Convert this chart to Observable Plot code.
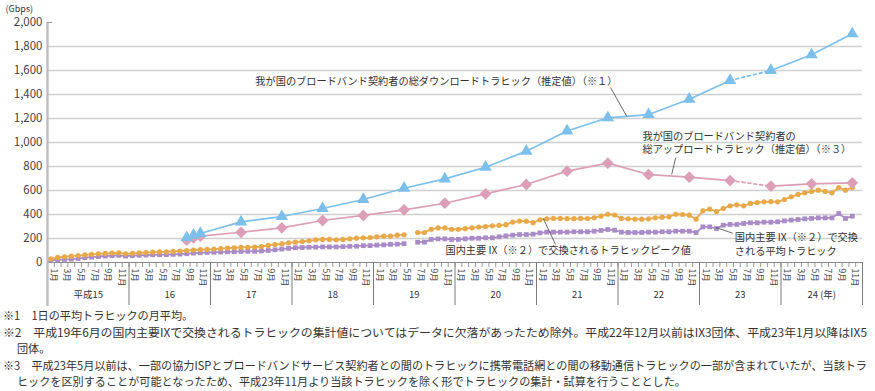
<!DOCTYPE html>
<html>
<head>
<meta charset="utf-8">
<script src="https://cdn.jsdelivr.net/npm/d3@7"></script>
<script src="https://cdn.jsdelivr.net/npm/@observablehq/plot@0.6"></script>
<style>
  body { margin: 0; background: #fff; font-family: "Noto Sans CJK JP", sans-serif; }
  #chart svg { display: block; }
  #notes { width: 875px; overflow: hidden; color: #333; font-size: 11.6px; line-height: 16.5px; padding-left: 3px; box-sizing: border-box; }
  .n { display: block; white-space: nowrap; }
  .n span { display: inline-block; transform-origin: 0 50%; }
  .c { padding-left: 14px; }
</style>
</head>
<body>
<div id="chart"></div>
<div id="notes">
  <div class="n"><span>※1　1日の平均トラヒックの月平均。</span></div>
  <div class="n"><span class="full">※2　平成19年6月の国内主要IXで交換されるトラヒックの集計値についてはデータに欠落があったため除外。平成22年12月以前はIX3団体、平成23年1月以降はIX5</span></div>
  <div class="n c"><span>団体。</span></div>
  <div class="n"><span class="full">※3　平成23年5月以前は、一部の協力ISPとブロードバンドサービス契約者との間のトラヒックに携帯電話網との間の移動通信トラヒックの一部が含まれていたが、当該トラ</span></div>
  <div class="n c"><span>ヒックを区別することが可能となったため、平成23年11月より当該トラヒックを除く形でトラヒックの集計・試算を行うこととした。</span></div>
</div>
<script>
// ---- categories ----
const firstYear = 2003; // 平成15年
const yearLabels = ["平成15", "16", "17", "18", "19", "20", "21", "22", "23", "24 (年)"];
const monthLabels = ["1月", "3月", "5月", "7月", "9月", "11月"];
const monthNumbers = [1, 3, 5, 7, 9, 11];
const yTicks = [0, 200, 400, 600, 800, 1000, 1200, 1400, 1600, 1800, 2000];

// ---- survey series (estimates, semi-annual) ----
const surveyDates = ["2004-09", "2004-10", "2004-11", "2005-05", "2005-11", "2006-05", "2006-11",
  "2007-05", "2007-11", "2008-05", "2008-11", "2009-05", "2009-11", "2010-05", "2010-11",
  "2011-05", "2011-11", "2012-05", "2012-11"];
const downloadValues = [208, 228, 242, 339, 383, 450, 525, 619, 697, 794, 928, 1096, 1206, 1233, 1361, 1517, 1600, 1731, 1906];
const uploadValues = [186, 206, 219, 252, 289, 350, 392, 439, 494, 572, 650, 761, 828, 733, 711, 683, 636, 656, 664];
const dashedFrom = "2011-05"; // dotted segment 2011-05 -> 2011-11

// ---- domestic major IX, monthly from 2003-01 to 2012-11 (null = missing, 2007-06) ----
const ixPeakValues = [
  31, 42, 48, 53, 58, 63, 68, 72, 76, 79, 80, 72,
  76, 80, 83, 86, 88, 89, 92, 96, 100, 104, 107, 110,
  112, 116, 120, 123, 126, 127, 129, 133, 142, 150, 156, 164,
  169, 175, 181, 189, 192, 192, 189, 192, 197, 203, 206, 208,
  214, 219, 219, 228, 231, null, 250, 250, 277, 288, 288, 277,
  277, 282, 289, 296, 300, 306, 310, 315, 337, 345, 344, 332,
  356, 364, 367, 367, 365, 365, 367, 366, 373, 386, 402, 396,
  367, 364, 361, 361, 364, 372, 378, 381, 402, 400, 394, 361,
  431, 444, 425, 450, 472, 481, 472, 492, 500, 506, 508, 506,
  525, 547, 567, 581, 592, 603, 592, 581, 625, 603, 625
];
const ixAvgValues = [
  20, 22, 25, 28, 33, 40, 45, 50, 54, 57, 60, 54,
  57, 60, 62, 64, 65, 66, 68, 70, 73, 78, 81, 84,
  85, 87, 89, 90, 92, 93, 94, 96, 100, 106, 112, 118,
  123, 125, 127, 128, 130, 130, 130, 132, 135, 136, 140, 141,
  145, 147, 151, 153, 157, null, 169, 170, 192, 197, 197, 192,
  192, 197, 202, 202, 206, 206, 214, 222, 228, 233, 233, 236,
  247, 253, 253, 253, 253, 256, 256, 256, 261, 267, 275, 269,
  253, 250, 250, 250, 253, 253, 256, 256, 261, 261, 261, 250,
  297, 297, 283, 311, 317, 317, 325, 331, 331, 336, 336, 339,
  347, 353, 358, 364, 367, 372, 372, 372, 408, 367, 386
];

// ---- derived tables ----
const monthPos = (s) => { const [y, m] = s.split("-").map(Number); return (y - firstYear) * 12 + (m - 1) + 0.5; };
const nMonths = yearLabels.length * 12;
const surveyRows = surveyDates.map((d, i) => ({ x: monthPos(d), down: downloadValues[i], up: uploadValues[i] }));
const di = surveyDates.indexOf(dashedFrom);
const solidA = surveyRows.slice(0, di + 1);
const dashSeg = surveyRows.slice(di, di + 2);
const solidB = surveyRows.slice(di + 1);
const ixRows = ixPeakValues.map((v, i) => ({ x: i + 0.5, peak: v, avg: ixAvgValues[i] }));
const monthLabelRows = [];
yearLabels.forEach((_, yi) => monthNumbers.forEach((m, mi) => monthLabelRows.push({ x: yi * 12 + m - 0.5, t: monthLabels[mi] })));
const yearRows = yearLabels.map((t, i) => ({ x: i * 12 + 6, t }));
const monthBounds = d3.range(0, nMonths + 1);
const yearBounds = d3.range(0, nMonths + 1, 12);

const blue = "#7cbfea", pink = "#dc9fb7", orange = "#e8a94b", purple = "#a98cc7", ink = "#333";
const pxPerUnit = 240 / 2000;
const axisBottom = -44 / pxPerUnit;

const annotations = [
  { x: 30.6, y: 1517, t: "我が国のブロードバンド契約者の総ダウンロードトラヒック（推定値）（※１）" },
  { x: 87.6, y: 1004, t: "我が国のブロードバンド契約者の\n総アップロードトラヒック（推定値）（※３）" },
  { x: 58.6, y: 108, t: "国内主要 IX（※２）で交換されるトラヒックピーク値" }
];
const avgAnnotation = [{ x: 101.2, y: 162, t: "国内主要 IX（※２）で交換\nされる平均トラヒック" }];
const leaders = [
  { x1: 82.9, y1: 1458, x2: 85.3, y2: 1217 },
  { x1: 92.5, y1: 875, x2: 91.9, y2: 733 },
  { x1: 73.0, y1: 367, x2: 74.8, y2: 150 },
  { x1: 98.4, y1: 292, x2: 100.9, y2: 244 }
];

const chart = Plot.plot({
  width: 875,
  height: 307,
  marginLeft: 47,
  marginRight: 13,
  marginTop: 22,
  marginBottom: 45,
  style: { fontFamily: "'Noto Sans CJK JP', sans-serif", fontSize: "11px", color: ink, background: "#fff" },
  x: { domain: [0, nMonths], label: null },
  y: { domain: [0, 2000], label: null },
  marks: [
    Plot.ruleY(yTicks.filter(d => d > 0 && d < 2000), { stroke: "#d0d0d0", strokeWidth: 1.7 }),
    Plot.axisX({ ticks: monthBounds, tickSize: 5, tickFormat: () => "", stroke: "#9a9a9a", label: null }),
    Plot.axisX({ ticks: yearBounds, tickSize: 43, tickFormat: () => "", stroke: "#7a7a7a", label: null }),
    Plot.ruleY([0], { stroke: "#8a8a8a", strokeWidth: 1.2 }),
    Plot.ruleX([0], { y1: axisBottom, y2: 2000, stroke: "#bdbdbd", strokeWidth: 2.4 }),
    Plot.ruleY([2000], { x1: 0, x2: 0.75, stroke: "#999" }),
    Plot.axisY({ ticks: yTicks, tickSize: 0, tickPadding: 5, tickFormat: d3.format(","), fontSize: 11.5, label: null, fill: "#444" }),
    Plot.text(["(Gbps)"], { frameAnchor: "top-left", dx: -42, dy: -17, textAnchor: "start", fontSize: 9, fill: ink }),
    Plot.text(monthLabelRows, { x: "x", text: "t", frameAnchor: "bottom", rotate: 90, textAnchor: "start", dy: 6, fontSize: 8.5, fill: "#444" }),
    Plot.text(yearRows, { x: "x", text: "t", frameAnchor: "bottom", dy: 35, fontSize: 9.5, fill: ink }),

    Plot.line(ixRows, { x: "x", y: "avg", stroke: purple, strokeWidth: 1.8 }),
    Plot.dot(ixRows, { x: "x", y: "avg", symbol: "square", r: 2.7, fill: purple }),
    Plot.line(ixRows, { x: "x", y: "peak", stroke: orange, strokeWidth: 1.8 }),
    Plot.dot(ixRows, { x: "x", y: "peak", r: 2.6, fill: orange }),

    Plot.line(solidA, { x: "x", y: "up", stroke: pink, strokeWidth: 1.7 }),
    Plot.line(dashSeg, { x: "x", y: "up", stroke: pink, strokeWidth: 1.7, strokeDasharray: "3,3" }),
    Plot.line(solidB, { x: "x", y: "up", stroke: pink, strokeWidth: 1.7 }),
    Plot.dot(surveyRows, { x: "x", y: "up", symbol: "diamond2", r: 5.3, fill: pink }),

    Plot.line(solidA, { x: "x", y: "down", stroke: blue, strokeWidth: 1.7 }),
    Plot.line(dashSeg, { x: "x", y: "down", stroke: blue, strokeWidth: 1.7, strokeDasharray: "3,3" }),
    Plot.line(solidB, { x: "x", y: "down", stroke: blue, strokeWidth: 1.7 }),
    Plot.dot(surveyRows, { x: "x", y: "down", symbol: "triangle", r: 4.6, fill: blue }),

    Plot.link(leaders, { x1: "x1", y1: "y1", x2: "x2", y2: "y2", stroke: "#444", strokeWidth: 0.8 }),
    Plot.text(annotations, { x: "x", y: "y", text: "t", textAnchor: "start", fontSize: 10.2, lineHeight: 1.3, fill: ink }),
    Plot.text(avgAnnotation, { x: "x", y: "y", text: "t", textAnchor: "start", fontSize: 10.2, lineHeight: 1.38, fill: ink })
  ]
});
document.getElementById("chart").appendChild(chart);

// fit footnotes horizontally like the reference's condensed, justified type
const fullSpans = [...document.querySelectorAll("#notes .full")];
const scales = fullSpans.map(el => 864 / el.getBoundingClientRect().width);
fullSpans.forEach((el, i) => { el.style.transform = `scaleX(${scales[i]})`; });
const sBase = Math.min(...scales);
document.querySelectorAll("#notes span:not(.full)").forEach(el => { el.style.transform = `scaleX(${sBase})`; });
</script>
</body>
</html>
